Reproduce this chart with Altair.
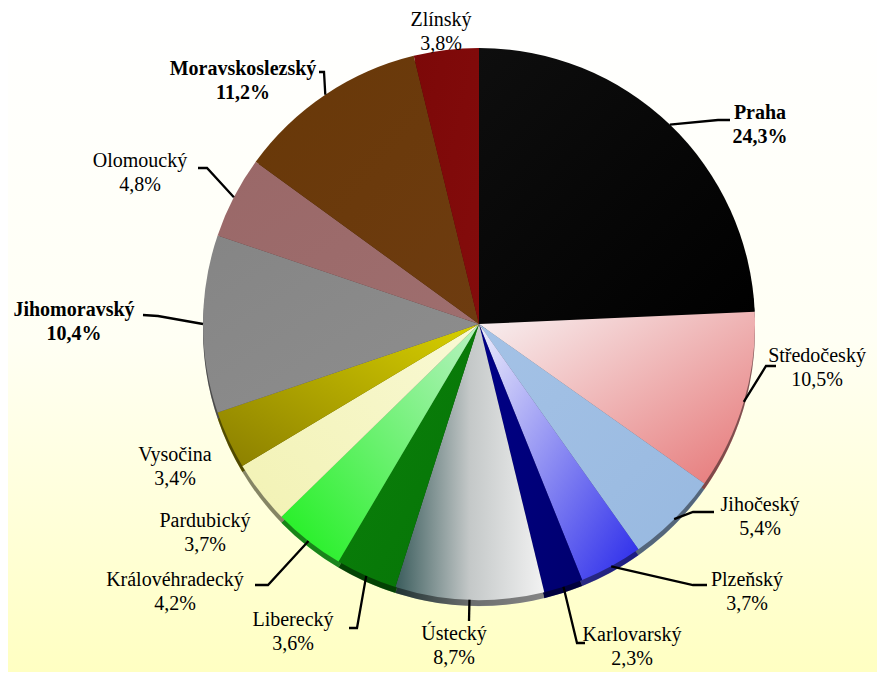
import math
import numpy as np
import pandas as pd
import altair as alt

# ---------------- data ----------------
regions = ["Praha", "Středočeský", "Jihočeský", "Plzeňský", "Karlovarský",
           "Ústecký", "Liberecký", "Královéhradecký", "Pardubický", "Vysočina",
           "Jihomoravský", "Olomoucký", "Moravskoslezský", "Zlínský"]
shares = [24.3, 10.5, 5.4, 3.7, 2.3, 8.7, 3.6, 4.2, 3.7, 3.4, 10.4, 4.8, 11.2, 3.8]
bold_labels = ["Praha", "Jihomoravský", "Moravskoslezský"]

# ---------------- layout / style ----------------
W, H = 869, 664          # chart size (page minus 8px margin)
M = 8                    # page margin, layout positions below are page coordinates
CX, CY, R = 479, 324, 276
RIM = 6
LINE_H = 24

# label first-line centres (page coords)
label_pos = [(760, 113), (817, 356), (760, 505), (747, 580), (632, 635),
             (454, 634), (293, 620), (175, 580), (205, 521), (175, 455),
             (74, 310), (140, 161), (243, 69), (441, 20)]
# leader line points after the slice edge (page coords)
leaders = [[(718, 120), (730, 120)],
           [(766, 366), (776, 366)],
           [(693, 512), (714, 512)],
           [(693, 585), (707, 585)],
           [(577, 643), (585, 643)],
           [(469, 621)],
           [(357, 628), (349, 628)],
           [(268, 585), (255, 585)],
           [],
           [],
           [(158, 316), (143, 315)],
           [(207, 168), (198, 168)],
           [(324, 72), (319, 72)],
           []]


def grad(colors, x1=0, y1=0, x2=1, y2=1):
    n = len(colors)
    stops = [alt.GradientStop(color=c, offset=(i / (n - 1) if n > 1 else 0))
             for i, c in enumerate(colors)]
    if n == 1:
        stops.append(alt.GradientStop(color=colors[0], offset=1))
    return alt.LinearGradient(gradient="linear", stops=stops, x1=x1, y1=y1, x2=x2, y2=y2)


fills = [
    grad(["#0e0e0e", "#000000"]),
    grad(["#f8f2f3", "#e67676"]),
    grad(["#a4c2e6", "#98b9e0"]),
    grad(["#eeeefb", "#2828ea"]),
    grad(["#000088", "#00006e"]),
    grad(["#3a5c5c", "#c4c8c8", "#f2f2f2"], 0, 0.5, 1, 0.5),
    grad(["#0b820b", "#067306"]),
    grad(["#1cf01c", "#b8f2c2"], 0, 1, 1, 0),
    grad(["#f2f2b4", "#f9f9d4"], 0, 1, 1, 0),
    grad(["#8a7e00", "#d8d000"], 0, 1, 1, 0),
    grad(["#858585", "#8e8e8e"]),
    grad(["#9a6868", "#9e6e6e"]),
    grad(["#683808", "#6e3c10"]),
    grad(["#7c0808", "#840c0c"]),
]

# ---------------- derived tables ----------------
vals = np.array(shares)
start = np.concatenate([[0], np.cumsum(vals)[:-1]])
end = start + vals
df = pd.DataFrame({"region": regions, "share": shares, "start": start, "end": end})

mid = (start + vals / 2) / 100 * 2 * math.pi
ex = CX + R * np.sin(mid)
ey = CY - R * np.cos(mid)

line_rows = []
for i, name in enumerate(regions):
    if not leaders[i]:
        continue
    pts = [(ex[i], ey[i])] + leaders[i]
    for k, (px, py) in enumerate(pts):
        line_rows.append({"region": name, "k": k, "x": px - M, "y": py - M})
lines_df = pd.DataFrame(line_rows)

text_df = pd.DataFrame({
    "region": regions,
    "label": [f"{n}\n{str(v).replace('.', ',')}%" for n, v in zip(regions, shares)],
    "x": [p[0] - M for p in label_pos],
    "y": [p[1] - M for p in label_pos],
    "bold": [n in bold_labels for n in regions],
})

xs = alt.Scale(domain=[0, W], nice=False, zero=False)
ys = alt.Scale(domain=[0, H], nice=False, zero=False, reverse=True)
ts = alt.Scale(domain=[0, 100])

# ---------------- layers ----------------
bg = alt.Chart(pd.DataFrame({"a": [0]})).mark_rect(
    color=grad(["#ffffff", "#fffff4", "#ffffc2"], 0, 0, 0, 1)
).encode(x=alt.value(0), x2=alt.value(W), y=alt.value(0), y2=alt.value(H))

layers = [bg]

# rim (3D thickness): shifted copies of slices, darkened
for i, name in enumerate(regions):
    layers.append(
        alt.Chart(df).transform_filter(alt.datum.region == name).mark_arc(
            color=fills[i], radius=R
        ).encode(theta=alt.Theta("start:Q", scale=ts), theta2="end:Q",
                 x=alt.value(CX - M), y=alt.value(CY - M + RIM))
    )
layers.append(
    alt.Chart(pd.DataFrame({"a": [0]})).mark_arc(
        theta=0, theta2=2 * math.pi, radius=R, color="black", opacity=0.45
    ).encode(x=alt.value(CX - M), y=alt.value(CY - M + RIM))
)

# top face
for i, name in enumerate(regions):
    layers.append(
        alt.Chart(df).transform_filter(alt.datum.region == name).mark_arc(
            color=fills[i], radius=R
        ).encode(theta=alt.Theta("start:Q", scale=ts), theta2="end:Q",
                 x=alt.value(CX - M), y=alt.value(CY - M))
    )

lines = alt.Chart(lines_df).mark_line(color="black", strokeWidth=2.3).encode(
    x=alt.X("x:Q", scale=xs, axis=None),
    y=alt.Y("y:Q", scale=ys, axis=None),
    detail="region:N",
    order="k:Q",
)
layers.append(lines)

for b in [False, True]:
    layers.append(
        alt.Chart(text_df).transform_filter(alt.datum.bold == b).mark_text(
            font="'Liberation Serif', 'Times New Roman', serif", fontSize=20,
            lineHeight=LINE_H, lineBreak="\n",
            fontWeight="bold" if b else "normal", color="black",
            align="center", baseline="middle"
        ).encode(
            x=alt.X("x:Q", scale=xs, axis=None),
            y=alt.Y("y:Q", scale=ys, axis=None),
            text="label:N",
        )
    )

chart = alt.layer(*layers).properties(
    width=W, height=H, padding=0, autosize=alt.AutoSizeParams(type="none"),
    background="#ffffff"
).configure_view(stroke=None)

chart.save("out.html", embed_options={"renderer": "svg", "actions": False})
